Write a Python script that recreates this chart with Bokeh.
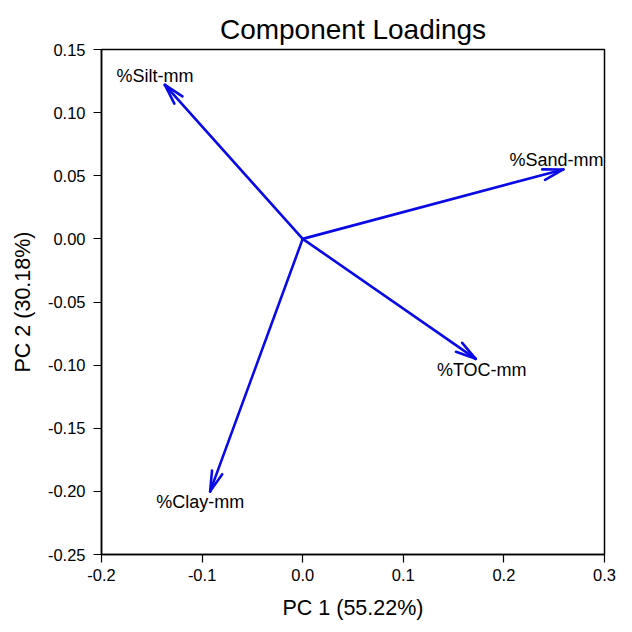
import math
from bokeh.plotting import figure
from bokeh.models import (ColumnDataSource, Range1d, FixedTicker, PrintfTickFormatter,
                          Label)
from bokeh.embed import file_html
from bokeh.resources import INLINE

# PCA component loadings (PC1, PC2) for each variable
variables = ["%Silt-mm", "%Sand-mm", "%TOC-mm", "%Clay-mm"]
pc1 = [-0.137, 0.259, 0.172, -0.092]
pc2 = [0.122, 0.055, -0.095, -0.200]

x_ticks = [-0.2, -0.1, 0.0, 0.1, 0.2, 0.3]
y_ticks = [-0.25, -0.20, -0.15, -0.10, -0.05, 0.00, 0.05, 0.10, 0.15]

FONT = "Liberation Sans"
BLUE = "#0a0ae6"

X_RANGE = (-0.2, 0.3)
Y_RANGE = (-0.25, 0.15)
FRAME_W, FRAME_H = 503, 505

# pixels per data unit, used to orient the arrowheads on screen
kx = FRAME_W / (X_RANGE[1] - X_RANGE[0])
ky = FRAME_H / (Y_RANGE[1] - Y_RANGE[0])

HEAD_HALF_ANGLE = math.radians(15)
HEAD_LEN = 21

back = [math.atan2(-y * ky, -x * kx) for x, y in zip(pc1, pc2)]

source = ColumnDataSource(dict(
    x0=[0.0] * len(variables), y0=[0.0] * len(variables),
    x1=pc1, y1=pc2,
    wing_a=[b + HEAD_HALF_ANGLE for b in back],
    wing_b=[b - HEAD_HALF_ANGLE for b in back],
))

p = figure(frame_width=FRAME_W, frame_height=FRAME_H,
           output_backend="svg", toolbar_location=None,
           x_range=Range1d(*X_RANGE), y_range=Range1d(*Y_RANGE),
           min_border_left=101, min_border_right=28,
           min_border_top=49, min_border_bottom=78,
           title="Component Loadings")

p.title.align = "center"
p.title.text_font = FONT
p.title.text_font_size = "28px"
p.title.text_font_style = "normal"
p.title.text_color = "black"

p.xgrid.visible = False
p.ygrid.visible = False
p.outline_line_color = "black"
p.outline_line_width = 1.5
p.outline_line_alpha = 1.0

p.xaxis.axis_label = "PC 1 (55.22%)"
p.yaxis.axis_label = "PC 2 (30.18%)"
p.xaxis.ticker = FixedTicker(ticks=x_ticks)
p.yaxis.ticker = FixedTicker(ticks=y_ticks)
p.xaxis.formatter = PrintfTickFormatter(format="%.1f")
p.yaxis.formatter = PrintfTickFormatter(format="%.2f")

for ax in (p.xaxis, p.yaxis):
    ax.axis_line_color = "black"
    ax.axis_line_width = 1.5
    ax.major_tick_line_color = "black"
    ax.major_tick_line_width = 1.2
    ax.major_tick_in = 0
    ax.major_tick_out = 8
    ax.minor_tick_line_color = None
    ax.major_label_text_font = FONT
    ax.major_label_text_font_size = "16.5px"
    ax.major_label_text_color = "black"
    ax.axis_label_text_font = FONT
    ax.axis_label_text_font_size = "21.5px"
    ax.axis_label_text_font_style = "normal"
    ax.axis_label_text_color = "black"

p.xaxis.major_label_standoff = 6
p.yaxis.major_label_standoff = 8
p.xaxis.axis_label_standoff = 12
p.yaxis.axis_label_standoff = 10

# loading vectors from the origin
p.segment(x0="x0", y0="y0", x1="x1", y1="y1", source=source,
          line_color=BLUE, line_width=2.6, line_cap="round")

# open arrowheads: two short wings from each tip
for wing in ("wing_a", "wing_b"):
    p.ray(x="x1", y="y1", angle=wing, length=HEAD_LEN, length_units="screen",
          source=source, line_color=BLUE, line_width=2.6, line_cap="round")

# variable names at the arrow tips: above arrows pointing up, below arrows
# pointing down, nudged outward horizontally; names close to the right
# edge are right-aligned against the frame so they stay visible
for name, x, y in zip(variables, pc1, pc2):
    near_edge = (X_RANGE[1] - x) * kx < 50
    if near_edge:
        align, dx = "right", (X_RANGE[1] - x) * kx - 1
    else:
        align, dx = "center", (-10 if x < 0 else 6)
    p.add_layout(Label(x=x, y=y, text=name,
                       x_offset=dx, y_offset=9 if y > 0 else -11,
                       text_align=align, text_baseline="middle",
                       text_font=FONT, text_font_size="18px",
                       text_color="black"))

open("out.html", "w").write(file_html(p, INLINE))
